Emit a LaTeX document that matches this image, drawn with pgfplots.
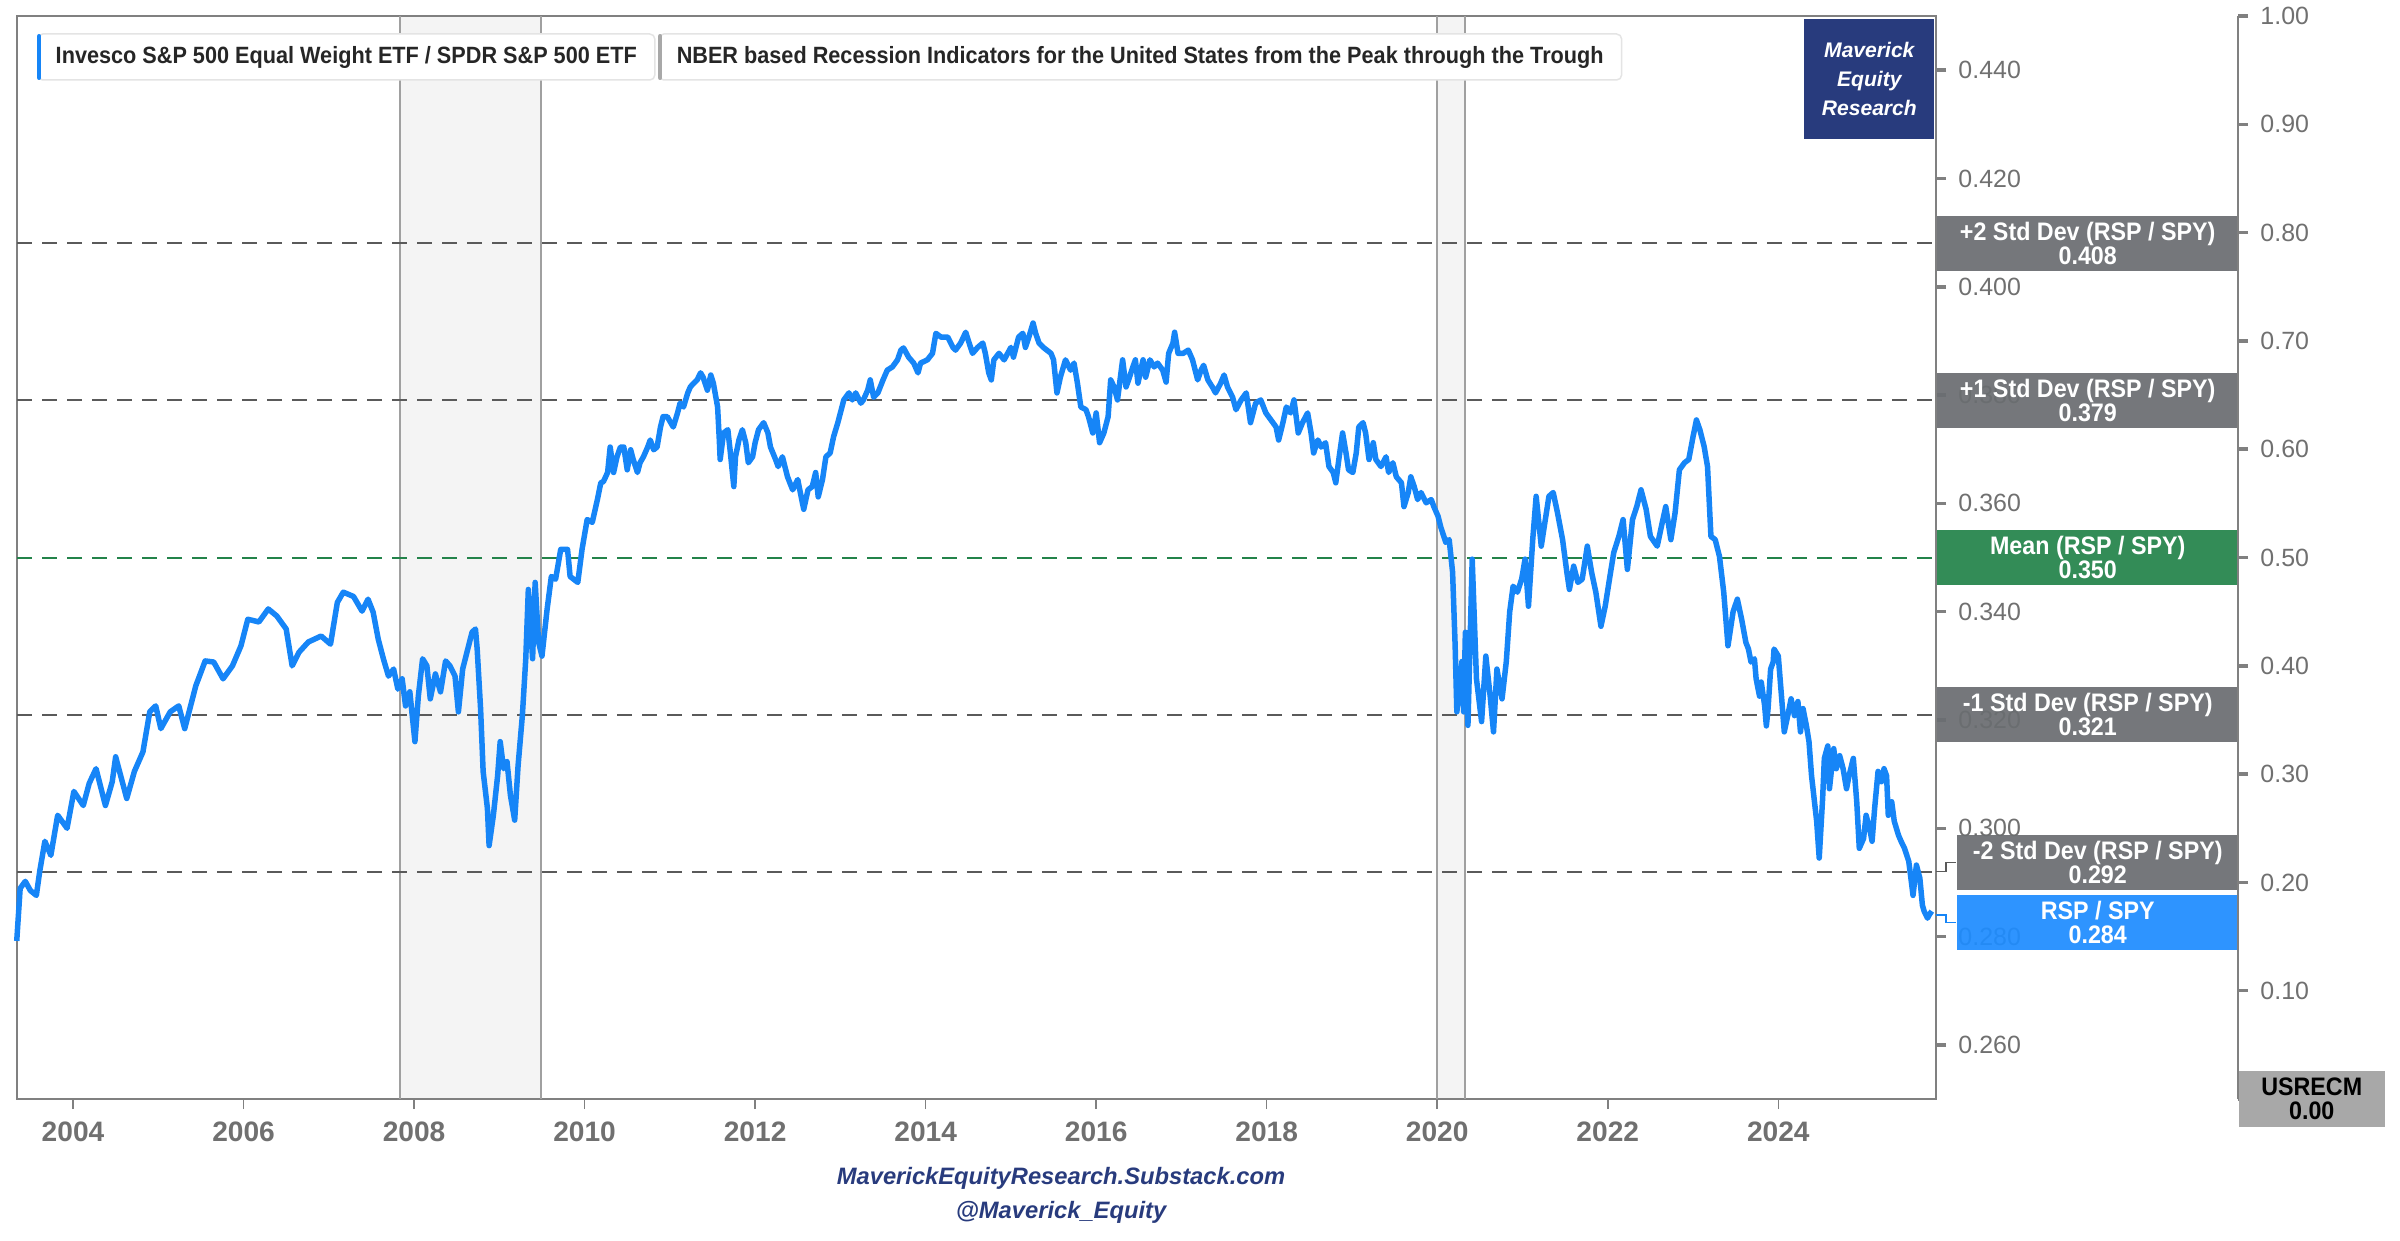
\documentclass[border=0pt]{standalone}
\usepackage{fontspec}
\setmainfont{Liberation Sans}
\newfontfamily\condfont[FakeStretch=0.92]{Liberation Sans}
\usepackage{pgfplots}
\pgfplotsset{compat=1.18}
\usepackage{pgfplotstable}

\definecolor{lineblue}{RGB}{22,133,247}
\definecolor{boxblue}{RGB}{30,140,255}
\definecolor{stdgray}{RGB}{106,109,113}
\definecolor{meangreen}{RGB}{35,131,74}
\definecolor{recgray}{RGB}{168,168,168}
\definecolor{navy}{RGB}{40,59,125}
\definecolor{tickgray}{RGB}{112,112,112}
\definecolor{framegray}{RGB}{128,128,128}
\definecolor{dashgray}{RGB}{90,90,90}
\definecolor{recfill}{RGB}{244,244,244}
\definecolor{recline}{RGB}{160,160,160}
\definecolor{legborder}{RGB}{228,228,228}

% RSP / SPY ratio
\pgfplotstableread{
yr val
2003.34 0.2792
2003.38 0.2889
2003.44 0.2902
2003.50 0.2885
2003.57 0.2876
2003.61 0.2921
2003.67 0.2976
2003.74 0.2950
2003.82 0.3024
2003.93 0.3000
2004.01 0.3068
2004.12 0.3042
2004.19 0.3083
2004.27 0.3110
2004.38 0.3042
2004.46 0.3086
2004.50 0.3132
2004.63 0.3055
2004.72 0.3105
2004.82 0.3141
2004.90 0.3215
2004.97 0.3226
2005.03 0.3184
2005.14 0.3215
2005.24 0.3226
2005.31 0.3184
2005.44 0.3263
2005.55 0.3309
2005.65 0.3307
2005.76 0.3276
2005.87 0.3300
2005.97 0.3337
2006.05 0.3386
2006.18 0.3381
2006.29 0.3405
2006.39 0.3392
2006.50 0.3368
2006.57 0.3300
2006.65 0.3325
2006.76 0.3344
2006.91 0.3355
2007.02 0.3340
2007.10 0.3417
2007.17 0.3436
2007.29 0.3428
2007.39 0.3401
2007.46 0.3423
2007.52 0.3399
2007.58 0.3349
2007.64 0.3313
2007.70 0.3281
2007.76 0.3294
2007.81 0.3257
2007.86 0.3276
2007.90 0.3226
2007.95 0.3252
2008.01 0.3160
2008.05 0.3244
2008.10 0.3313
2008.15 0.3300
2008.19 0.3239
2008.25 0.3285
2008.31 0.3252
2008.37 0.3309
2008.42 0.3300
2008.48 0.3281
2008.52 0.3215
2008.57 0.3294
2008.62 0.3325
2008.68 0.3362
2008.72 0.3368
2008.74 0.3331
2008.78 0.3221
2008.81 0.3105
2008.86 0.3037
2008.88 0.2968
2008.93 0.3024
2008.98 0.3097
2009.01 0.3160
2009.05 0.3110
2009.09 0.3123
2009.13 0.3061
2009.18 0.3015
2009.22 0.3116
2009.27 0.3208
2009.31 0.3313
2009.34 0.3441
2009.39 0.3313
2009.42 0.3454
2009.46 0.3344
2009.50 0.3318
2009.56 0.3404
2009.61 0.3465
2009.66 0.3460
2009.72 0.3515
2009.80 0.3515
2009.83 0.3465
2009.92 0.3454
2009.97 0.3515
2010.03 0.3570
2010.09 0.3565
2010.15 0.3607
2010.19 0.3638
2010.22 0.3640
2010.27 0.3657
2010.30 0.3704
2010.34 0.3657
2010.38 0.3686
2010.42 0.3704
2010.46 0.3704
2010.50 0.3662
2010.54 0.3699
2010.57 0.3681
2010.62 0.3657
2010.65 0.3675
2010.69 0.3686
2010.74 0.3704
2010.77 0.3717
2010.81 0.3699
2010.85 0.3704
2010.89 0.3741
2010.92 0.3760
2010.97 0.3760
2011.01 0.3749
2011.04 0.3741
2011.09 0.3767
2011.12 0.3785
2011.16 0.3778
2011.21 0.3804
2011.24 0.3815
2011.28 0.3822
2011.32 0.3828
2011.36 0.3841
2011.39 0.3833
2011.44 0.3809
2011.48 0.3837
2011.51 0.3822
2011.56 0.3778
2011.58 0.3717
2011.59 0.3681
2011.63 0.3730
2011.68 0.3736
2011.71 0.3693
2011.75 0.3631
2011.77 0.3686
2011.81 0.3717
2011.85 0.3736
2011.89 0.3712
2011.92 0.3675
2011.97 0.3686
2012.00 0.3712
2012.04 0.3736
2012.10 0.3749
2012.15 0.3730
2012.18 0.3704
2012.24 0.3681
2012.27 0.3668
2012.32 0.3686
2012.38 0.3649
2012.44 0.3625
2012.50 0.3644
2012.53 0.3620
2012.57 0.3589
2012.62 0.3625
2012.67 0.3631
2012.71 0.3657
2012.74 0.3612
2012.79 0.3644
2012.83 0.3686
2012.88 0.3693
2012.92 0.3723
2012.97 0.3749
2013.00 0.3767
2013.04 0.3791
2013.10 0.3804
2013.14 0.3791
2013.18 0.3804
2013.24 0.3785
2013.27 0.3791
2013.32 0.3809
2013.35 0.3828
2013.39 0.3796
2013.44 0.3804
2013.50 0.3828
2013.55 0.3846
2013.61 0.3852
2013.67 0.3865
2013.71 0.3883
2013.74 0.3887
2013.80 0.3870
2013.86 0.3859
2013.91 0.3841
2013.94 0.3859
2014.02 0.3865
2014.08 0.3877
2014.12 0.3914
2014.18 0.3907
2014.26 0.3907
2014.32 0.3888
2014.35 0.3883
2014.41 0.3896
2014.47 0.3916
2014.50 0.3901
2014.55 0.3877
2014.61 0.3888
2014.67 0.3896
2014.70 0.3877
2014.74 0.3841
2014.77 0.3828
2014.80 0.3865
2014.86 0.3877
2014.92 0.3865
2015.00 0.3888
2015.03 0.3870
2015.09 0.3907
2015.14 0.3914
2015.17 0.3888
2015.21 0.3907
2015.26 0.3933
2015.29 0.3914
2015.33 0.3896
2015.38 0.3888
2015.47 0.3877
2015.50 0.3865
2015.54 0.3804
2015.58 0.3833
2015.64 0.3865
2015.70 0.3846
2015.74 0.3859
2015.78 0.3822
2015.82 0.3778
2015.88 0.3773
2015.91 0.3760
2015.96 0.3730
2016.00 0.3767
2016.04 0.3712
2016.09 0.3730
2016.14 0.3760
2016.17 0.3828
2016.21 0.3815
2016.25 0.3791
2016.31 0.3865
2016.35 0.3815
2016.38 0.3828
2016.43 0.3852
2016.46 0.3865
2016.49 0.3822
2016.55 0.3865
2016.58 0.3833
2016.63 0.3865
2016.68 0.3852
2016.72 0.3859
2016.78 0.3846
2016.82 0.3824
2016.85 0.3877
2016.90 0.3896
2016.92 0.3916
2016.96 0.3877
2017.02 0.3877
2017.08 0.3883
2017.13 0.3865
2017.19 0.3828
2017.23 0.3846
2017.26 0.3855
2017.31 0.3828
2017.37 0.3813
2017.40 0.3804
2017.46 0.3822
2017.50 0.3837
2017.54 0.3815
2017.60 0.3796
2017.64 0.3773
2017.70 0.3791
2017.76 0.3804
2017.81 0.3749
2017.87 0.3785
2017.93 0.3791
2017.99 0.3767
2018.05 0.3754
2018.11 0.3741
2018.14 0.3717
2018.19 0.3749
2018.23 0.3778
2018.28 0.3767
2018.32 0.3791
2018.37 0.3730
2018.42 0.3749
2018.48 0.3767
2018.52 0.3730
2018.55 0.3693
2018.60 0.3717
2018.64 0.3704
2018.69 0.3712
2018.73 0.3668
2018.78 0.3657
2018.81 0.3638
2018.85 0.3686
2018.89 0.3730
2018.93 0.3693
2018.96 0.3662
2019.01 0.3657
2019.05 0.3693
2019.08 0.3741
2019.13 0.3749
2019.16 0.3730
2019.20 0.3681
2019.25 0.3712
2019.28 0.3681
2019.34 0.3668
2019.40 0.3686
2019.43 0.3657
2019.48 0.3675
2019.52 0.3649
2019.58 0.3638
2019.61 0.3594
2019.66 0.3620
2019.69 0.3649
2019.73 0.3631
2019.77 0.3607
2019.81 0.3620
2019.87 0.3601
2019.93 0.3607
2019.96 0.3594
2020.01 0.3576
2020.04 0.3557
2020.10 0.3528
2020.14 0.3533
2020.18 0.3473
2020.21 0.3337
2020.23 0.3215
2020.29 0.3308
2020.31 0.3215
2020.33 0.3362
2020.36 0.3190
2020.41 0.3497
2020.46 0.3276
2020.52 0.3197
2020.57 0.3318
2020.62 0.3245
2020.66 0.3178
2020.70 0.3294
2020.76 0.3239
2020.81 0.3308
2020.85 0.3400
2020.89 0.3447
2020.94 0.3436
2020.99 0.3460
2021.03 0.3497
2021.07 0.3410
2021.12 0.3533
2021.16 0.3613
2021.22 0.3521
2021.25 0.3552
2021.31 0.3613
2021.36 0.3620
2021.41 0.3583
2021.47 0.3533
2021.52 0.3473
2021.55 0.3441
2021.60 0.3484
2021.65 0.3454
2021.70 0.3460
2021.76 0.3521
2021.81 0.3473
2021.86 0.3436
2021.92 0.3373
2021.97 0.3410
2022.02 0.3460
2022.07 0.3509
2022.13 0.3539
2022.18 0.3570
2022.23 0.3478
2022.29 0.3570
2022.34 0.3594
2022.39 0.3625
2022.45 0.3589
2022.50 0.3539
2022.58 0.3521
2022.63 0.3558
2022.68 0.3594
2022.74 0.3533
2022.79 0.3583
2022.84 0.3662
2022.90 0.3675
2022.95 0.3681
2023.00 0.3723
2023.04 0.3754
2023.08 0.3736
2023.13 0.3705
2023.17 0.3668
2023.21 0.3539
2023.26 0.3533
2023.31 0.3502
2023.36 0.3436
2023.41 0.3337
2023.47 0.3400
2023.52 0.3423
2023.57 0.3386
2023.62 0.3343
2023.65 0.3331
2023.68 0.3307
2023.72 0.3313
2023.74 0.3276
2023.78 0.3244
2023.80 0.3270
2023.84 0.3226
2023.86 0.3189
2023.88 0.3221
2023.91 0.3294
2023.94 0.3307
2023.95 0.3331
2024.00 0.3318
2024.04 0.3239
2024.07 0.3178
2024.12 0.3215
2024.15 0.3239
2024.19 0.3208
2024.23 0.3234
2024.26 0.3178
2024.29 0.3221
2024.33 0.3189
2024.36 0.3160
2024.39 0.3097
2024.42 0.3055
2024.45 0.3013
2024.48 0.2945
2024.52 0.3055
2024.54 0.3129
2024.58 0.3152
2024.60 0.3073
2024.65 0.3147
2024.68 0.3110
2024.72 0.3134
2024.76 0.3110
2024.80 0.3073
2024.83 0.3097
2024.88 0.3129
2024.92 0.3049
2024.95 0.2963
2025.00 0.2981
2025.03 0.3024
2025.07 0.3000
2025.10 0.2976
2025.13 0.3037
2025.17 0.3105
2025.21 0.3086
2025.24 0.3110
2025.27 0.3097
2025.29 0.3024
2025.33 0.3049
2025.36 0.3013
2025.41 0.2987
2025.44 0.2976
2025.48 0.2963
2025.53 0.2939
2025.56 0.2902
2025.58 0.2876
2025.62 0.2932
2025.66 0.2908
2025.69 0.2858
2025.71 0.2847
2025.75 0.2834
2025.77 0.2840
2025.80 0.2847
}\ratio

\begin{document}
\begin{tikzpicture}

\begin{axis}[
  at={(1.7mm,14.1mm)}, anchor=south west,
  scale only axis, width=191.9mm, height=108.3mm,
  xmin=2003.343, xmax=2025.85, ymin=0.25, ymax=0.45,
  set layers, clip=false,
  axis line style={draw=framegray, line width=0.25mm},
  tick align=outside, major tick length=1mm,
  xtick pos=lower, xticklabel pos=lower,
  ytick pos=upper, yticklabel pos=upper,
  xtick={2004,2006,2008,2010,2012,2014,2016,2018,2020,2022,2024},
  xticklabels={2004,2006,2008,2010,2012,2014,2016,2018,2020,2022,2024},
  ytick={0.26,0.28,0.30,0.32,0.34,0.36,0.38,0.40,0.42,0.44},
  /pgf/number format/assume math mode=true,
  xtick style={draw=framegray, line width=0.15mm},
  ytick style={draw=framegray, line width=0.35mm},
  xticklabel style={font=\bfseries\fontsize{8}{9}\selectfont, text=tickgray},
  yticklabel style={font=\fontsize{7.1}{8}\selectfont, text=tickgray,
    /pgf/number format/fixed, /pgf/number format/fixed zerofill,
    /pgf/number format/precision=3},
]
% recessions
\addplot[fill=recfill, draw=none, on layer=axis background]
  coordinates {(2007.84,0.25) (2007.84,0.45) (2009.49,0.45) (2009.49,0.25)};
\addplot[fill=recfill, draw=none, on layer=axis background]
  coordinates {(2020.00,0.25) (2020.00,0.45) (2020.33,0.45) (2020.33,0.25)};
\addplot[recline, line width=0.2mm] coordinates {(2007.84,0.25) (2007.84,0.45)};
\addplot[recline, line width=0.2mm] coordinates {(2009.49,0.25) (2009.49,0.45)};
\addplot[recline, line width=0.2mm] coordinates {(2020.00,0.25) (2020.00,0.45)};
\addplot[recline, line width=0.2mm] coordinates {(2020.33,0.25) (2020.33,0.45)};

% mean and std dev bands
\addplot[dashgray, line width=0.2mm, dash pattern=on 1.5mm off 1mm] coordinates {(2003.343,0.408) (2025.85,0.408)};
\addplot[dashgray, line width=0.2mm, dash pattern=on 1.5mm off 1mm] coordinates {(2003.343,0.379) (2025.85,0.379)};
\addplot[meangreen, line width=0.2mm, dash pattern=on 1.5mm off 1mm] coordinates {(2003.343,0.350) (2025.85,0.350)};
\addplot[dashgray, line width=0.2mm, dash pattern=on 1.5mm off 1mm] coordinates {(2003.343,0.321) (2025.85,0.321)};
\addplot[dashgray, line width=0.2mm, dash pattern=on 1.5mm off 1mm] coordinates {(2003.343,0.292) (2025.85,0.292)};

\addplot[lineblue, line width=0.55mm, line join=round] table[x=yr, y=val] {\ratio};

% value boxes on the right
\tikzset{vbox/.style={anchor=west, inner sep=0pt, align=center, text=white,
  fill opacity=0.93, text opacity=1,
  font=\condfont\bfseries\fontsize{7.2}{6.9}\selectfont, minimum height=5.5mm}}
\node[vbox, fill=stdgray, minimum width=30.2mm] at (axis cs:2025.85,0.408) {+2 Std Dev (RSP / SPY)\\0.408};
\node[vbox, fill=stdgray, minimum width=30.2mm] at (axis cs:2025.85,0.379) {+1 Std Dev (RSP / SPY)\\0.379};
\node[vbox, fill=meangreen, minimum width=30.2mm] at (axis cs:2025.85,0.350) {Mean (RSP / SPY)\\0.350};
\node[vbox, fill=stdgray, minimum width=30.2mm] at (axis cs:2025.85,0.321) {-1 Std Dev (RSP / SPY)\\0.321};
\draw[dashgray, line width=0.15mm] (axis cs:2025.85,0.292) -- ([xshift=1mm]axis cs:2025.85,0.292)
  -- ([xshift=1mm]axis cs:2025.85,0.2937) -- ([xshift=2mm]axis cs:2025.85,0.2937);
\node[vbox, fill=stdgray, minimum width=28.2mm, xshift=2mm] at (axis cs:2025.85,0.2937) {-2 Std Dev (RSP / SPY)\\0.292};
\draw[lineblue, line width=0.15mm] (axis cs:2025.85,0.284) -- ([xshift=1mm]axis cs:2025.85,0.284)
  -- ([xshift=1mm]axis cs:2025.85,0.2826) -- ([xshift=2mm]axis cs:2025.85,0.2826);
\node[vbox, fill=boxblue, minimum width=28.2mm, xshift=2mm] at (axis cs:2025.85,0.2826) {RSP / SPY\\0.284};
\end{axis}

% recession indicator axis
\begin{axis}[
  at={(223.8mm,14.1mm)}, anchor=south east,
  scale only axis, width=20mm, height=108.3mm,
  xmin=0, xmax=1, ymin=0, ymax=1,
  clip=false,
  axis x line=none, axis y line*=right,
  axis line style={draw=framegray, line width=0.25mm},
  tick align=outside, major tick length=1mm,
  ytick={0,0.1,0.2,0.3,0.4,0.5,0.6,0.7,0.8,0.9,1.0},
  ytick style={draw=framegray, line width=0.35mm},
  /pgf/number format/assume math mode=true,
  yticklabel style={font=\fontsize{7.1}{8}\selectfont, text=tickgray,
    /pgf/number format/fixed, /pgf/number format/fixed zerofill,
    /pgf/number format/precision=2},
]
\node[anchor=west, inner sep=0pt, fill=recgray, minimum width=14.6mm, minimum height=5.6mm,
  align=center, text=black, font=\condfont\bfseries\fontsize{7.2}{6.9}\selectfont]
  at (rel axis cs:1,0) {USRECM\\0.00};
\end{axis}

% legend entries
\node[anchor=west, draw=legborder, line width=0.15mm, rounded corners=0.5mm, fill=white,
  minimum height=4.6mm, inner xsep=1.8mm, inner ysep=0pt, text=black!85,
  font=\condfont\bfseries\fontsize{6.7}{7}\selectfont] (lg1) at (3.7mm,118.3mm)
  {Invesco S\&P 500 Equal Weight ETF / SPDR S\&P 500 ETF};
\draw[lineblue, line width=0.45mm, line cap=round] ([xshift=0.22mm,yshift=0.3mm]lg1.south west) -- ([xshift=0.22mm,yshift=-0.3mm]lg1.north west);
\node[anchor=west, draw=legborder, line width=0.15mm, rounded corners=0.5mm, fill=white,
  minimum height=4.6mm, inner xsep=1.8mm, inner ysep=0pt, text=black!85,
  font=\condfont\bfseries\fontsize{6.7}{7}\selectfont] (lg2) at (65.8mm,118.3mm)
  {NBER based Recession Indicators for the United States from the Peak through the Trough};
\draw[recgray, line width=0.45mm, line cap=round] ([xshift=0.22mm,yshift=0.3mm]lg2.south west) -- ([xshift=0.22mm,yshift=-0.3mm]lg2.north west);

% brand box
\node[anchor=north east, fill=navy, minimum width=13mm, minimum height=12mm, inner sep=0pt,
  align=center, text=white, font=\bfseries\itshape\fontsize{6}{8.3}\selectfont]
  at (193.5mm,122.2mm) {Maverick\\Equity\\Research};

% footer
\node[text=navy, font=\bfseries\itshape\fontsize{6.75}{7}\selectfont] at (106.1mm,6.2mm) {MaverickEquityResearch.Substack.com};
\node[text=navy, font=\bfseries\itshape\fontsize{6.75}{7}\selectfont] at (106.1mm,2.8mm) {@Maverick\_Equity};

\pgfresetboundingbox
\path[use as bounding box] (0,0) rectangle (240mm,124mm);
\end{tikzpicture}
\end{document}
